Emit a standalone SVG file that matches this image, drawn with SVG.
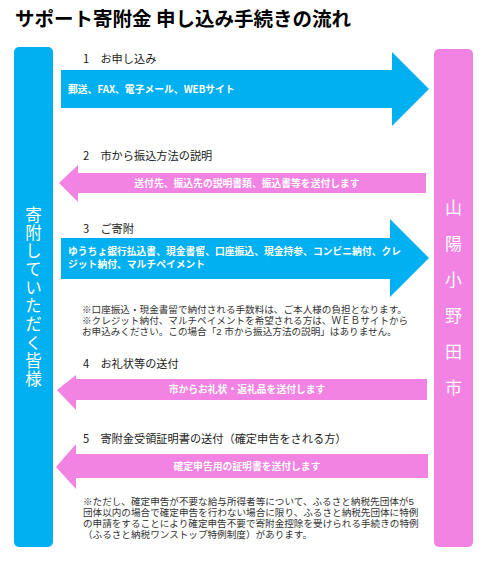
<svg xmlns="http://www.w3.org/2000/svg" width="491" height="561" viewBox="0 0 491 561">
<style>
text{font-family:"Noto Sans CJK JP","Liberation Sans",sans-serif;}
.title{font-size:19.5px;font-weight:bold;fill:#000;}
.lbl{font-size:11.2px;fill:#222;}
.atx{font-size:9.8px;font-weight:bold;fill:#fff;}
.note{font-family:"Liberation Sans","Noto Sans CJK JP",sans-serif;font-size:9.6px;fill:#333;}
.vt{font-size:17px;fill:#fff;text-anchor:middle;}
.vv{font-size:16.5px;fill:#fff;writing-mode:vertical-rl;letter-spacing:1.8px;}
.blue{fill:#00B0F0;}
.pink{fill:#F283E3;}
</style>
<rect width="491" height="561" fill="#fff"/>
<text class="title" x="15" y="26">サポート寄附金 申し込み手続きの流れ</text>

<g id="donors">
<rect class="blue" x="14" y="47" width="39" height="500" rx="5"/>
<text class="vv" x="33.5" y="206">寄附していただく皆様</text>
</g>

<g id="city">
<rect class="pink" x="434" y="49" width="39" height="498" rx="5"/>
<text class="vt" x="453.5" y="214">山</text>
<text class="vt" x="453.5" y="250">陽</text>
<text class="vt" x="453.5" y="286">小</text>
<text class="vt" x="453.5" y="322">野</text>
<text class="vt" x="453.5" y="358">田</text>
<text class="vt" x="453.5" y="394">市</text>
</g>

<g id="connectors">
<g id="step1">
<text class="lbl" x="83" y="63">1　お申し込み</text>
<polygon class="blue" points="61,70 392,70 392,52 429,89 392,126 392,108 61,108"/>
<text class="atx" x="68" y="93">郵送、FAX、電子メール、WEBサイト</text>
</g>
<g id="step2">
<text class="lbl" x="83" y="160">2　市から振込方法の説明</text>
<polygon class="pink" points="426,173 78,173 78,165 59,183 78,202 78,193 426,193"/>
<text class="atx" x="247" y="187" text-anchor="middle">送付先、振込先の説明書類、振込書等を送付します</text>
</g>
<g id="step3">
<text class="lbl" x="83" y="233">3　ご寄附</text>
<polygon class="blue" points="61,238 390,238 390,219 429,258 390,297 390,279 61,279"/>
<text class="atx" x="68" y="255">ゆうちょ銀行払込書、現金書留、口座振込、現金持参、コンビニ納付、クレ<tspan x="68" dy="13">ジット納付、マルチペイメント</tspan></text>
<text class="note" x="82" y="313">※口座振込・現金書留で納付される手数料は、ご本人様の負担となります。<tspan x="82" dy="11">※クレジット納付、マルチペイメントを希望される方は、ＷＥＢサイトから</tspan><tspan x="82" dy="11">お申込みください。この場合「2 市から振込方法の説明」はありません。</tspan></text>
</g>
<g id="step4">
<text class="lbl" x="83" y="368">4　お礼状等の送付</text>
<polygon class="pink" points="427,379 76,379 76,375 57,390 76,410 76,400 427,400"/>
<text class="atx" x="247" y="393" text-anchor="middle">市からお礼状・返礼品を送付します</text>
</g>
<g id="step5">
<text class="lbl" x="83" y="443">5　寄附金受領証明書の送付（確定申告をされる方）</text>
<polygon class="pink" points="428,454 76,454 76,444 56,467 76,489 76,478 428,478"/>
<text class="atx" x="247" y="470" text-anchor="middle">確定申告用の証明書を送付します</text>
<text class="note" x="83" y="505">※ただし、確定申告が不要な給与所得者等について、ふるさと納税先団体が5<tspan x="83" dy="11">団体以内の場合で確定申告を行わない場合に限り、ふるさと納税先団体に特例</tspan><tspan x="83" dy="11">の申請をすることにより確定申告不要で寄附金控除を受けられる手続きの特例</tspan><tspan x="83" dy="11">（ふるさと納税ワンストップ特例制度）があります。</tspan></text>
</g>
</g>
</svg>
